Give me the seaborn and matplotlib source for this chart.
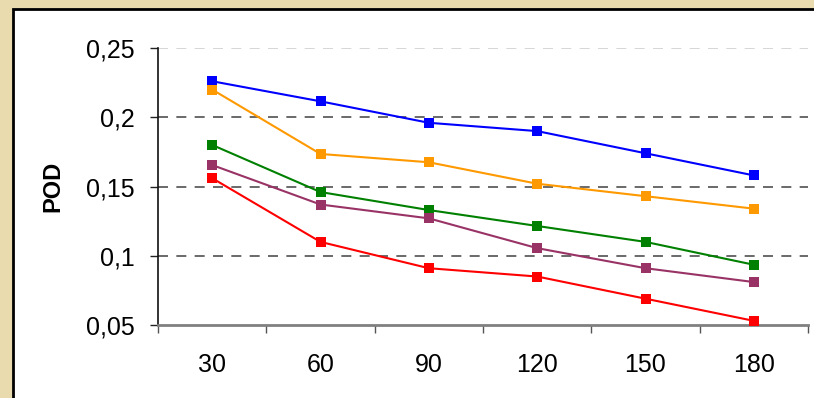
import matplotlib
matplotlib.use("Agg")
import matplotlib.pyplot as plt
from matplotlib.patches import Rectangle
import numpy as np
import pandas as pd
import seaborn as sns

# Time windows (categories) and POD values for each series
windows = ["30", "60", "90", "120", "150", "180"]
pod_blue = [0.226, 0.2115, 0.196, 0.190, 0.174, 0.158]
pod_orange = [0.220, 0.1735, 0.1675, 0.152, 0.143, 0.134]
pod_green = [0.180, 0.146, 0.133, 0.1215, 0.110, 0.0935]
pod_purple = [0.1655, 0.137, 0.127, 0.1055, 0.091, 0.081]
pod_red = [0.156, 0.110, 0.091, 0.085, 0.069, 0.053]

series_names = ["S1", "S2", "S3", "S4", "S5"]
series_values = [pod_blue, pod_orange, pod_green, pod_purple, pod_red]
series_colors = ["#0000FF", "#FF9900", "#008000", "#993366", "#FF0000"]

y_ticks = [0.05, 0.10, 0.15, 0.20, 0.25]
y_tick_labels = ["0,05", "0,1", "0,15", "0,2", "0,25"]

rows = []
for name, vals in zip(series_names, series_values):
    for i, v in enumerate(vals):
        rows.append({"pos": i, "window": windows[i], "series": name, "POD": v})
df = pd.DataFrame(rows)

sns.set_theme(style="white")
plt.rcParams["font.family"] = ["Liberation Sans", "DejaVu Sans"]

W, H = 814, 398
fig = plt.figure(figsize=(W / 100, H / 100), dpi=100)
fig.patch.set_facecolor("#EADBAF")

# white panel with a dark border, running off the right and bottom edges
fig.patches.append(Rectangle((12.5 / W, -0.1), 1.2, 1.1 - 8.5 / H, transform=fig.transFigure,
                             facecolor="white", edgecolor="black", linewidth=2.0, zorder=-10))

ax = fig.add_axes([158 / W, 1 - 325 / H, (808 - 158) / W, (325 - 48) / H])
ax.patch.set_alpha(0)

sns.lineplot(data=df, x="pos", y="POD", hue="series", palette=series_colors,
             marker="s", markersize=7.5, markeredgewidth=0, linewidth=1.5,
             legend=False, ax=ax, zorder=3)

ax.set_xlim(-0.5, len(windows) - 0.5)
ax.set_ylim(0.05, 0.25)

# category ticks sit between groups, labels at group centres
ax.set_xticks(np.arange(-0.5, len(windows) + 0.5, 1.0))
ax.set_xticklabels([])
ax.set_xticks(np.arange(len(windows)), minor=True)
ax.set_xticklabels(windows, minor=True)
ax.tick_params(axis="x", which="major", direction="out", length=6, width=1.0,
               color="#555555", bottom=True)
ax.tick_params(axis="x", which="minor", length=0, pad=20, labelsize=18,
               labelcolor="black")

ax.set_yticks(y_ticks)
ax.set_yticklabels(y_tick_labels)
ax.tick_params(axis="y", direction="out", length=6, width=1.0, color="#222222",
               left=True, labelsize=18, pad=10.5, labelcolor="black")

ax.set_xlabel("")
ax.set_ylabel("POD", fontsize=17, fontweight="bold", labelpad=16, color="black")

for s in ["top", "right"]:
    ax.spines[s].set_visible(False)
ax.spines["left"].set_color("#111111")
ax.spines["left"].set_linewidth(1.2)
ax.spines["bottom"].set_color("#808080")
ax.spines["bottom"].set_linewidth(2.0)

# dashed horizontal gridlines
for yv in y_ticks[1:]:
    col = "#D0D0D0" if yv == y_ticks[-1] else "#505050"
    ax.axhline(yv, color=col, linewidth=1.2, linestyle=(0, (6, 5)), zorder=1)

fig.savefig("out.png", dpi=100, facecolor=fig.get_facecolor())
